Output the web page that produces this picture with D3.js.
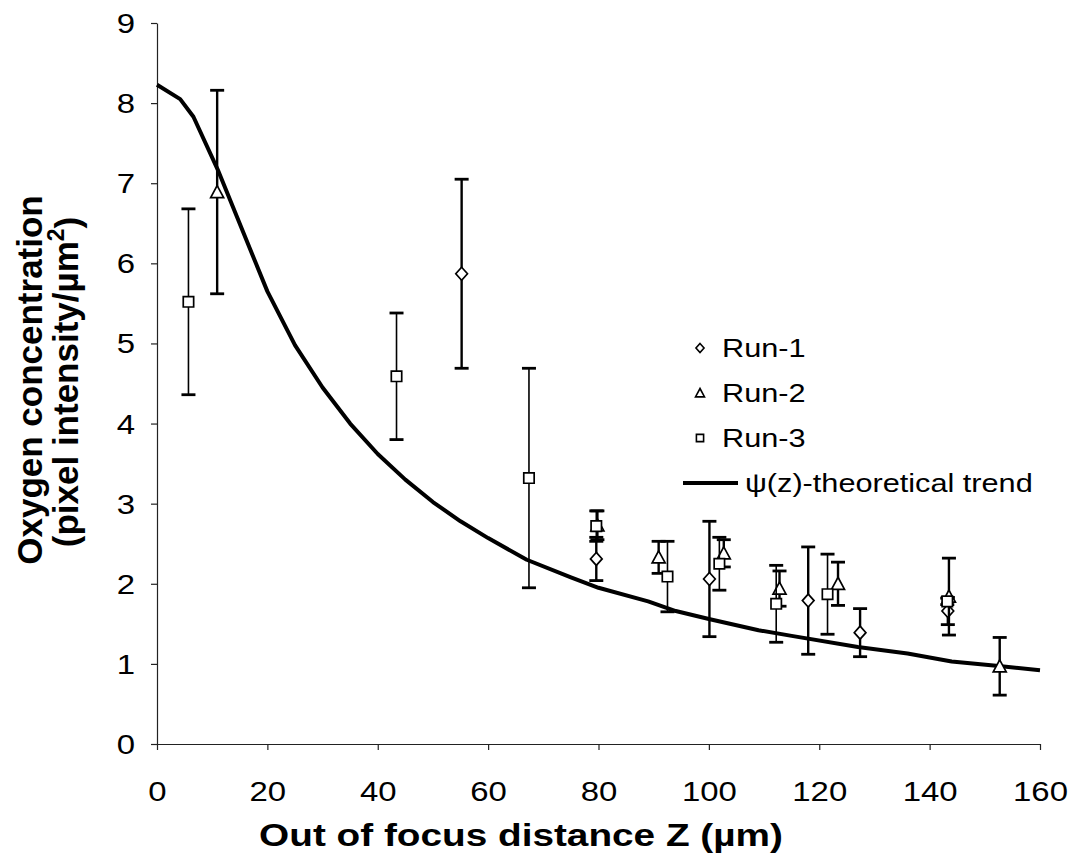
<!DOCTYPE html>
<html>
<head>
<meta charset="utf-8">
<script src="https://cdn.jsdelivr.net/npm/d3@7"></script>
<style>
  body { margin: 0; background: #fff; }
  text { font-family: "Liberation Sans", Arial, sans-serif; fill: #000; }
</style>
</head>
<body>
<div class="chart"></div>
<script>
// data
var run1Z = [55.2, 79.6, 100.1, 118.0, 127.4, 143.3];
var run1Y = [5.87, 2.31, 2.06, 1.79, 1.39, 1.66];
var run1Err = [1.18, 0.27, 0.72, 0.67, 0.30, 0.17];

var run2Z = [10.9, 79.8, 90.9, 102.7, 112.8, 123.4, 143.5, 152.7];
var run2Y = [6.89, 2.73, 2.33, 2.38, 1.94, 2.00, 1.84, 0.97];
var run2Err = [1.27, 0.18, 0.20, 0.17, 0.22, 0.27, 0.48, 0.36];

var run3Z = [5.7, 43.4, 67.4, 79.6, 92.5, 101.9, 112.2, 121.5, 143.2];
var run3Y = [5.52, 4.59, 3.32, 2.72, 2.09, 2.25, 1.75, 1.87, 1.78];
var run3Err = [1.16, 0.79, 1.37, 0.19, 0.44, 0.33, 0.48, 0.50, 0.04];

var trendZ = [0, 4.2, 6.6, 11, 16.2, 20, 25, 30, 35, 40, 45, 50, 55, 60, 67, 75, 80, 89, 94, 100, 109, 115, 127, 136, 144, 153, 160];
var trendY = [8.23, 8.05, 7.83, 7.17, 6.29, 5.65, 4.98, 4.45, 4.0, 3.62, 3.3, 3.02, 2.78, 2.57, 2.3, 2.08, 1.95, 1.78, 1.66, 1.56, 1.42, 1.35, 1.21, 1.13, 1.03, 0.97, 0.92];

var xTicks = [0, 20, 40, 60, 80, 100, 120, 140, 160];
var yTicks = [0, 1, 2, 3, 4, 5, 6, 7, 8, 9];
var legendNames = ["Run-1", "Run-2", "Run-3", "\u03c8(z)-theoretical trend"];

var svgWidth = 1075;
var svgHeight = 859;
var margin = { top: 23, right: 35, bottom: 115, left: 157 };
var width = svgWidth - margin.left - margin.right;
var height = svgHeight - margin.top - margin.bottom;
var stretch = 1.22; // text in the scan is wider than normal

var svg = d3.select(".chart")
    .append("svg")
    .attr("width", svgWidth)
    .attr("height", svgHeight);

var chartGroup = svg.append("g")
    .attr("transform", `translate(${margin.left}, ${margin.top})`);

var x = d3.scaleLinear().domain([0, 160]).range([0, width]);
var y = d3.scaleLinear().domain([0, 9]).range([height, 0]);

// axes
var bottomAxis = d3.axisBottom(x).tickValues(xTicks).tickSize(6).tickSizeOuter(0);
var leftAxis = d3.axisLeft(y).tickValues(yTicks).tickSize(6).tickSizeOuter(0);

var xg = chartGroup.append("g")
    .attr("transform", `translate(0, ${height})`)
    .call(bottomAxis);
xg.selectAll("text")
    .attr("y", 38).attr("dy", "0.71em")
    .attr("transform", `scale(${stretch},1)`)
    .style("font-size", "27px");

var yg = chartGroup.append("g").call(leftAxis);
yg.selectAll("text")
    .attr("x", -22 / stretch).attr("dy", "0.35em")
    .attr("transform", `scale(${stretch},1)`)
    .style("font-size", "27px");

chartGroup.selectAll(".domain, .tick line").attr("stroke", "#222").attr("stroke-width", 1.2);

// theoretical trend
var trendData = trendZ.map((z, i) => [z, trendY[i]]);
chartGroup.append("path")
    .datum(trendData)
    .attr("fill", "none")
    .attr("stroke", "#000")
    .attr("stroke-width", 4)
    .attr("stroke-linejoin", "round")
    .attr("d", d3.line().x(d => x(d[0])).y(d => y(d[1])));

// marker shapes
function markerPath(type, s) {
    if (type === "diamond") return `M0,${-s}L${s * 0.9},0L0,${s}L${-s * 0.9},0Z`;
    if (type === "triangle") return `M0,${-s}L${s},${s * 0.85}L${-s},${s * 0.85}Z`;
    return `M${-s * 0.8},${-s * 0.8}H${s * 0.8}V${s * 0.8}H${-s * 0.8}Z`;
}

var runs = [
    { z: run1Z, v: run1Y, e: run1Err, shape: "diamond", w: 2.4 },
    { z: run2Z, v: run2Y, e: run2Err, shape: "triangle", w: 2.4 },
    { z: run3Z, v: run3Y, e: run3Err, shape: "square", w: 1.6 }
];

runs.forEach(function(run) {
    var pts = run.z.map((z, i) => ({ z: z, v: run.v[i], e: run.e[i] }));
    var g = chartGroup.append("g");

    g.selectAll(".bar").data(pts).enter().append("line")
        .attr("x1", d => x(d.z)).attr("x2", d => x(d.z))
        .attr("y1", d => y(d.v + d.e)).attr("y2", d => y(d.v - d.e))
        .attr("stroke", "#000").attr("stroke-width", run.w);

    [1, -1].forEach(function(sign) {
        g.selectAll(".cap" + sign).data(pts).enter().append("line")
            .attr("x1", d => x(d.z) - 7).attr("x2", d => x(d.z) + 7)
            .attr("y1", d => y(d.v + sign * d.e)).attr("y2", d => y(d.v + sign * d.e))
            .attr("stroke", "#000").attr("stroke-width", 2.8);
    });

    g.selectAll(".mark").data(pts).enter().append("path")
        .attr("transform", d => `translate(${x(d.z)}, ${y(d.v)})`)
        .attr("d", markerPath(run.shape, 6.5))
        .attr("fill", "#fff")
        .attr("stroke", "#000")
        .attr("stroke-width", 1.7);
});

// legend
var legend = svg.append("g");
var legendY = [348, 393, 438, 483];
["diamond", "triangle", "square"].forEach(function(shape, i) {
    legend.append("path")
        .attr("transform", `translate(700, ${legendY[i]})`)
        .attr("d", markerPath(shape, 4.5))
        .attr("fill", "#fff")
        .attr("stroke", "#000")
        .attr("stroke-width", 1.6);
});
legend.append("line")
    .attr("x1", 683).attr("x2", 738)
    .attr("y1", legendY[3]).attr("y2", legendY[3])
    .attr("stroke", "#000").attr("stroke-width", 4);

legendNames.forEach(function(name, i) {
    var tx = i < 3 ? 722 : 745;
    legend.append("text")
        .attr("transform", `translate(${tx}, ${legendY[i]}) scale(1.18,1)`)
        .attr("dy", "0.35em")
        .style("font-size", "26px")
        .text(name);
});

// axis titles
svg.append("text")
    .attr("transform", `translate(521, 846) scale(1.25,1)`)
    .attr("text-anchor", "middle")
    .style("font-size", "31px")
    .style("font-weight", "bold")
    .text("Out of focus distance Z (\u00b5m)");

var yTitle = svg.append("text")
    .attr("transform", "translate(30, 380) rotate(-90)")
    .attr("text-anchor", "middle")
    .style("font-size", "35px")
    .style("font-weight", "bold");
yTitle.append("tspan").attr("x", 0).attr("dy", "0.35em").text("Oxygen concentration");
var line2 = svg.append("text")
    .attr("transform", "translate(66, 382) rotate(-90)")
    .attr("text-anchor", "middle")
    .style("font-size", "35px")
    .style("font-weight", "bold");
line2.append("tspan").attr("dy", "0.35em").text("(pixel intensity/\u00b5m");
line2.append("tspan").attr("dy", "-0.6em").style("font-size", "23px").text("2");
line2.append("tspan").attr("dy", "0.45em").text(")");
</script>
</body>
</html>
